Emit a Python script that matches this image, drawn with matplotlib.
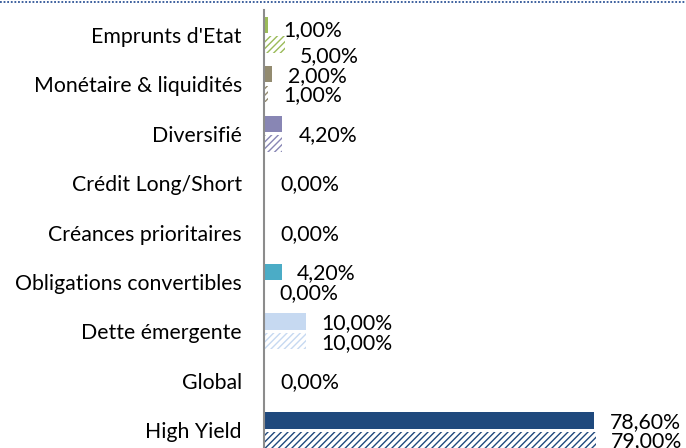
import matplotlib
matplotlib.use("Agg")
import matplotlib.pyplot as plt
import numpy as np

plt.rcParams['font.family'] = ['Lato', 'DejaVu Sans']
plt.rcParams['hatch.linewidth'] = 1.0

categories = ["Emprunts d'Etat", "Monétaire & liquidités", "Diversifié",
              "Crédit Long/Short", "Créances prioritaires",
              "Obligations convertibles", "Dette émergente", "Global", "High Yield"]
solid_vals = [1.0, 2.0, 4.2, 0.0, 0.0, 4.2, 10.0, 0.0, 78.6]
hatch_vals = [5.0, 1.0, 4.2, 0.0, 0.0, 0.0, 10.0, 0.0, 79.0]
colors = ["#9BBB59", "#938B70", "#8886B4", "#4BACC6", "#4BACC6",
          "#4BACC6", "#C6D9F1", "#1F497D", "#1F497D"]
# categories that show only one value label, centred on the pair
single_label = ["Diversifié", "Crédit Long/Short", "Créances prioritaires", "Global"]

FS = 15.3

fig = plt.figure(figsize=(6.86, 4.48), dpi=100)
ax = fig.add_axes([264/686, -7/448, 420/686, 445/448])

y = np.arange(len(categories))
off = 0.2
h = 0.33
ax.barh(y - off, solid_vals, h, color=colors, linewidth=0)
ax.barh(y + off, hatch_vals, h, color="white", edgecolor=colors,
        hatch="/////", linewidth=0)

def fmt(v):
    return f"{v:.2f}%".replace(".", ",")

for i, cat in enumerate(categories):
    # labels of the first pair sit a bit lower in the original
    dy = -4 if i == 0 else -1
    if cat in single_label:
        ax.annotate(fmt(solid_vals[i]), (max(solid_vals[i], hatch_vals[i]), i),
                    xytext=(12, -1), textcoords="offset points",
                    ha="left", va="center", fontsize=FS)
    else:
        ax.annotate(fmt(solid_vals[i]), (solid_vals[i], i - off),
                    xytext=(11, dy), textcoords="offset points",
                    ha="left", va="center", fontsize=FS)
        ax.annotate(fmt(hatch_vals[i]), (hatch_vals[i], i + off),
                    xytext=(11, dy * 2 if i == 0 else dy), textcoords="offset points",
                    ha="left", va="center", fontsize=FS)

ax.set_xlim(0, 100)
ax.set_ylim(len(categories) - 0.5, -0.5)
ax.set_yticks(y, categories, fontsize=FS)
ax.tick_params(axis="y", length=0, pad=16)
ax.set_xticks([])
for s in ["top", "right", "bottom"]:
    ax.spines[s].set_visible(False)
ax.spines["left"].set_color("#8C8C8C")
ax.spines["left"].set_linewidth(1.5)

# dotted frame line at the top of the figure
fig.add_artist(plt.Line2D([0, 1], [1 - 2/448, 1 - 2/448], color="#2F5597",
                          linestyle=(0, (1, 1)), linewidth=1.3,
                          transform=fig.transFigure))

fig.savefig("out.png", dpi=100)
